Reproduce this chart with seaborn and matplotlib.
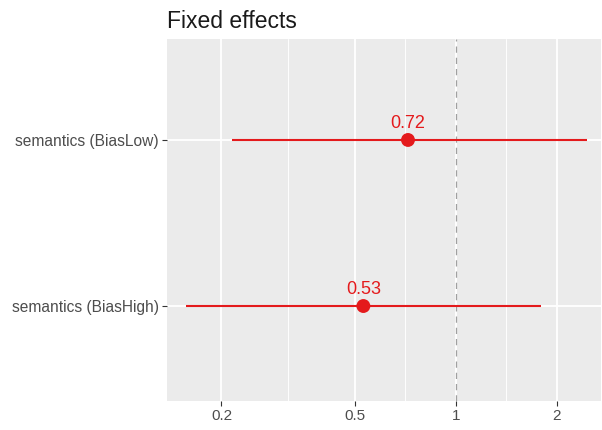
import matplotlib
matplotlib.use("Agg")
import matplotlib.pyplot as plt
import matplotlib.ticker as mticker
import numpy as np
import pandas as pd
import seaborn as sns

# ---- data ----
terms = ["semantics (BiasHigh)", "semantics (BiasLow)"]
estimates = [0.53, 0.72]
ci_low = [0.157, 0.215]
ci_high = [1.80, 2.46]
value_labels = ["0.53", "0.72"]
x_ticks = [0.2, 0.5, 1, 2]
x_tick_labels = ["0.2", "0.5", "1", "2"]
title = "Fixed effects"

df = pd.DataFrame({"term": terms, "estimate": estimates,
                   "low": ci_low, "high": ci_high, "label": value_labels})
df["pos"] = np.arange(len(df))

sns.set_style("white")
plt.rcParams["font.family"] = ["Liberation Sans", "DejaVu Sans"]

RED = "#E41A1C"
W, H = 602, 430
fig = plt.figure(figsize=(W / 100, H / 100), dpi=100)
left, right, top, bottom = 167, 601, 39, 401
ax = fig.add_axes([left / W, 1 - bottom / H, (right - left) / W, (bottom - top) / H])
ax.set_facecolor("#EBEBEB")
for s in ax.spines.values():
    s.set_visible(False)

ax.set_xscale("log")
ax.set_xlim(0.1376, 2.71)
ax.set_ylim(-0.572, 1.608)

# grid
ax.xaxis.set_major_locator(mticker.FixedLocator(x_ticks))
ax.xaxis.set_major_formatter(mticker.FixedFormatter(x_tick_labels))
minor = [np.sqrt(a * b) for a, b in zip(x_ticks[:-1], x_ticks[1:])]
ax.xaxis.set_minor_locator(mticker.FixedLocator(minor))
ax.xaxis.set_minor_formatter(mticker.NullFormatter())
ax.set_yticks(df["pos"])
ax.set_yticklabels(df["term"])
ax.grid(which="major", color="white", lw=1.3)
ax.grid(which="minor", axis="x", color="white", lw=0.65)
ax.set_axisbelow(True)

ax.axvline(1, color="#A0A0A0", lw=0.9, ls=(0, (5, 4)), zorder=1.5)

ax.hlines(df["pos"], df["low"], df["high"], color=RED, lw=1.5, zorder=2)
sns.scatterplot(data=df, x="estimate", y="pos", ax=ax, color=RED, s=100,
                edgecolor="none", zorder=3, legend=False)
for _, r in df.iterrows():
    ax.annotate(r["label"], (r["estimate"], r["pos"]), xytext=(0, 5.5),
                textcoords="offset points", ha="center", va="bottom",
                color=RED, fontsize=13)

ax.set_xlabel("")
ax.set_ylabel("")
ax.tick_params(axis="both", which="major", bottom=True, left=True,
               length=3.5, width=0.8, color="#333333",
               labelcolor="#4D4D4D", labelsize=11, pad=2.5)
ax.tick_params(axis="x", which="minor", length=0)
ax.tick_params(axis="y", labelsize=11.2)

fig.text(left / W, 1 - 28 / H, title, fontsize=16.5, color="#1A1A1A", va="baseline", ha="left")

fig.savefig("out.png", dpi=100)
